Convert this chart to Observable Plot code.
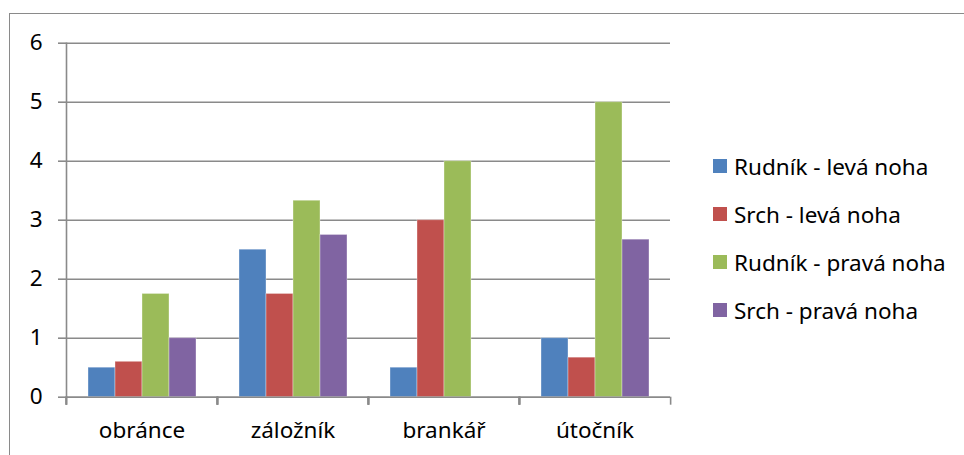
<!DOCTYPE html>
<html>
<head>
<meta charset="utf-8">
<script src="https://cdn.jsdelivr.net/npm/d3@7"></script>
<script src="https://cdn.jsdelivr.net/npm/@observablehq/plot@0.6"></script>
<style>
  html, body { margin: 0; padding: 0; background: #fff; overflow: hidden; }
  #chart { position: relative; width: 964px; height: 455px; overflow: hidden; font-family: "Noto Sans", sans-serif; }
  #chart svg { position: absolute; left: 0; top: 0; }
  #chart .border { position: absolute; left: 9px; top: 13px; width: 1000px; height: 500px; border: 1.5px solid #8a8a8a; box-sizing: border-box; }
  #legend { position: absolute; left: 713px; top: 0; }
  #legend .item { position: absolute; left: 0; height: 30px; display: flex; align-items: center; white-space: nowrap; font-size: 22.5px; color: #000; }
  #legend .sw { width: 14px; height: 14px; margin-right: 7px; flex: none; }
</style>
</head>
<body>
<div id="chart"><div class="border"></div><div id="legend"></div></div>
<script>
// Player positions (groups along x)
const categories = ["obránce", "záložník", "brankář", "útočník"];
// Series names
const series = ["Rudník - levá noha", "Srch - levá noha", "Rudník - pravá noha", "Srch - pravá noha"];
// Values per series, in category order
const rudnikLeva = [0.5, 2.5, 0.5, 1];
const srchLeva = [0.6, 1.75, 3, 0.67];
const rudnikPrava = [1.75, 3.33, 4, 5];
const srchPrava = [1, 2.75, 0, 2.67];
// Y axis ticks
const yTicks = [0, 1, 2, 3, 4, 5, 6];
// Series colours
const colors = ["#4f81bd", "#c0504d", "#9bbb59", "#8064a2"];

const seriesValues = [rudnikLeva, srchLeva, rudnikPrava, srchPrava];
const data = categories.flatMap((c, i) =>
  series.map((s, j) => ({category: c, series: s, value: seriesValues[j][i]}))
);

const W = 964, H = 455;
const M = {left: 65, right: 294, top: 42.7, bottom: 58.3};
const halfBand = (W - M.left - M.right) / categories.length / 2;
const axisGray = "#8a8a8a";
const font = "Noto Sans";

const chart = Plot.plot({
  width: W,
  height: H,
  marginLeft: M.left,
  marginRight: M.right,
  marginTop: M.top,
  marginBottom: M.bottom,
  style: {fontFamily: font, fontSize: "22.5px", background: "transparent", color: "#000"},
  fx: {domain: categories, padding: 0, label: null, axis: null},
  x: {domain: series, paddingInner: 0, paddingOuter: 0.75, axis: null},
  y: {domain: [0, 6], label: null, axis: null},
  color: {domain: series, range: colors},
  marks: [
    Plot.gridY(yTicks, {stroke: axisGray, strokeOpacity: 1, strokeWidth: 1.6}),
    Plot.barY(data, {fx: "category", x: "series", y: "value", fill: "series", stroke: "#ffffff", strokeOpacity: 0.35, strokeWidth: 1}),
    Plot.ruleY([0], {stroke: axisGray, strokeWidth: 1.6}),
    Plot.frame({anchor: "left", facetAnchor: "left", stroke: axisGray, strokeWidth: 1.6}),
    Plot.axisY(yTicks, {anchor: "left", tickSize: 8, tickPadding: 16, stroke: axisGray, strokeWidth: 1.6, color: "#000", label: null, tickFormat: d => String(d)}),
    Plot.axisFx({anchor: "bottom", tickSize: 0, tickPadding: 25, color: "#000", label: null}),
    Plot.axisFx(categories, {anchor: "bottom", tickSize: 8, dx: -halfBand, stroke: axisGray, strokeWidth: 1.6, tickFormat: () => "", label: null}),
    Plot.axisFx([categories[categories.length - 1]], {anchor: "bottom", tickSize: 8, dx: halfBand, stroke: axisGray, strokeWidth: 1.6, tickFormat: () => "", label: null})
  ]
});

const root = document.getElementById("chart");
root.insertBefore(chart, root.firstChild);

// Legend on the right: one row per series
const legend = document.getElementById("legend");
const legendTop = 166, legendStep = 48;
series.forEach((s, i) => {
  const item = document.createElement("div");
  item.className = "item";
  item.style.top = (legendTop + i * legendStep - 15) + "px";
  const sw = document.createElement("span");
  sw.className = "sw";
  sw.style.background = colors[i];
  const label = document.createElement("span");
  label.textContent = s;
  item.appendChild(sw);
  item.appendChild(label);
  legend.appendChild(item);
});
</script>
</body>
</html>
